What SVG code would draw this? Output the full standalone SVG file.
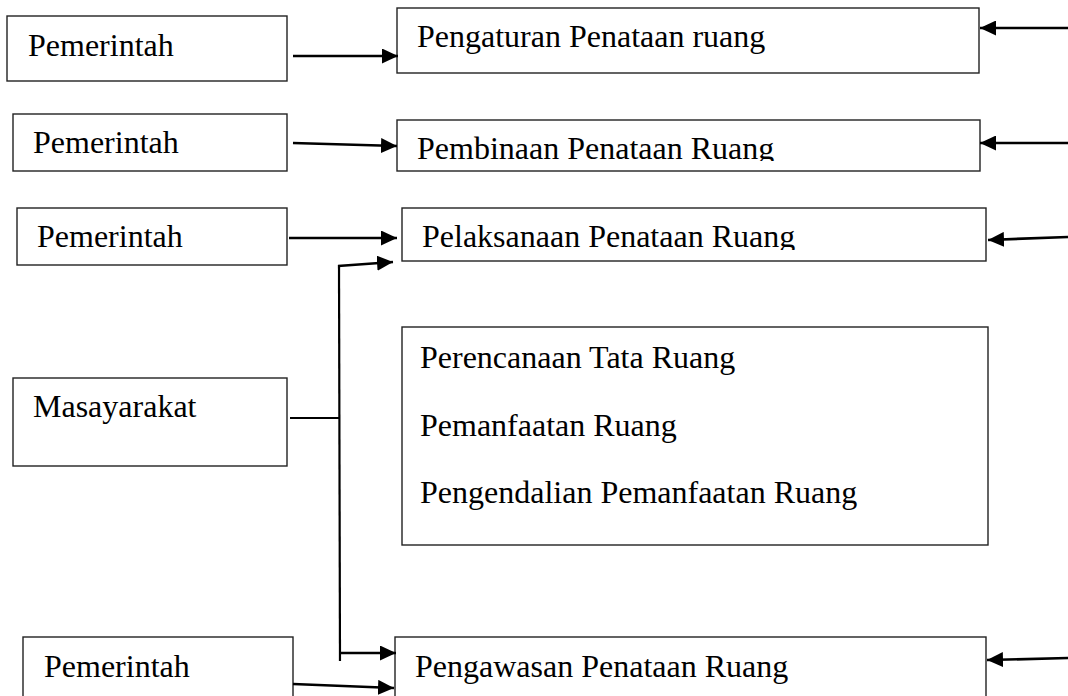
<svg xmlns="http://www.w3.org/2000/svg" width="1068" height="696" viewBox="0 0 1068 696">
  <style>
    .box { fill: #fff; stroke: #222; stroke-width: 1.4; }
    .lbl { font-family: "Liberation Serif", "Times New Roman", serif; font-size: 32px; fill: #000; }
    .arr { fill: none; stroke: #000; stroke-width: 2.7; marker-end: url(#head); }
    .ln { fill: none; stroke: #000; stroke-width: 2.2; }
  </style>
  <defs>
    <marker id="head" markerUnits="userSpaceOnUse" markerWidth="16" markerHeight="15" refX="16" refY="7.5" orient="auto">
      <path d="M0,0 L16,7.5 L0,15 z" fill="#000"/>
    </marker>
    <!-- inner text areas of the two boxes whose labels are cut off at the bottom -->
    <clipPath id="clipPembinaan"><rect x="398" y="121" width="580" height="40"/></clipPath>
    <clipPath id="clipPelaksanaan"><rect x="403" y="209" width="582" height="41"/></clipPath>
  </defs>

  <rect width="1068" height="696" fill="#fff"/>

  <!-- left column: actors -->
  <g id="pemerintah1">
    <rect class="box" x="7" y="16" width="280" height="65"/>
    <text class="lbl" x="28" y="56">Pemerintah</text>
  </g>
  <g id="pemerintah2">
    <rect class="box" x="13" y="114" width="274" height="57"/>
    <text class="lbl" x="33" y="153">Pemerintah</text>
  </g>
  <g id="pemerintah3">
    <rect class="box" x="17" y="208" width="270" height="57"/>
    <text class="lbl" x="37" y="247">Pemerintah</text>
  </g>
  <g id="masyarakat">
    <rect class="box" x="13" y="378" width="274" height="88"/>
    <text class="lbl" x="33" y="417">Masayarakat</text>
  </g>
  <g id="pemerintah4">
    <rect class="box" x="23" y="637" width="270" height="70"/>
    <text class="lbl" x="44" y="677">Pemerintah</text>
  </g>

  <!-- right column: activities -->
  <g id="pengaturan">
    <rect class="box" x="397" y="8" width="582" height="65"/>
    <text class="lbl" x="417" y="47">Pengaturan Penataan ruang</text>
  </g>
  <g id="pembinaan">
    <rect class="box" x="397" y="120" width="583" height="51"/>
    <text class="lbl" x="417" y="159" clip-path="url(#clipPembinaan)">Pembinaan Penataan Ruang</text>
  </g>
  <g id="pelaksanaan">
    <rect class="box" x="402" y="208" width="584" height="53"/>
    <text class="lbl" x="422" y="247" clip-path="url(#clipPelaksanaan)">Pelaksanaan Penataan Ruang</text>
  </g>
  <g id="lingkup">
    <rect class="box" x="402" y="327" width="586" height="218"/>
    <text class="lbl" x="420" y="368">Perencanaan Tata Ruang</text>
    <text class="lbl" x="420" y="436">Pemanfaatan Ruang</text>
    <text class="lbl" x="420" y="503">Pengendalian Pemanfaatan Ruang</text>
  </g>
  <g id="pengawasan">
    <rect class="box" x="395" y="637" width="591" height="70"/>
    <text class="lbl" x="415" y="677">Pengawasan Penataan Ruang</text>
  </g>

  <!-- connectors -->
  <g id="connectors">
    <line class="arr" x1="293" y1="56" x2="398" y2="56"/>
    <line class="arr" x1="293" y1="143" x2="397" y2="146"/>
    <line class="arr" x1="289" y1="238" x2="397" y2="238"/>

    <!-- Masyarakat branch -->
    <line class="ln" x1="290" y1="418" x2="339" y2="418"/>
    <polyline class="ln" points="340,661 339,265"/>
    <line class="arr" x1="338" y1="266" x2="393" y2="262"/>
    <line class="arr" x1="341" y1="653" x2="396" y2="653"/>

    <line class="arr" x1="293" y1="684" x2="394" y2="688"/>

    <!-- incoming from the right edge -->
    <line class="arr" x1="1068" y1="28" x2="980" y2="28"/>
    <line class="arr" x1="1068" y1="143" x2="980" y2="143"/>
    <line class="arr" x1="1068" y1="237" x2="988" y2="240"/>
    <line class="arr" x1="1068" y1="658" x2="987" y2="660"/>
  </g>
</svg>
